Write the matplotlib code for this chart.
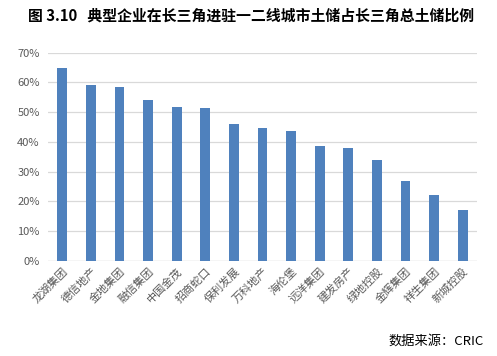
import matplotlib
matplotlib.use("Agg")
import matplotlib.pyplot as plt
from matplotlib.ticker import FuncFormatter

plt.rcParams['font.family'] = ['Noto Sans CJK SC', 'DejaVu Sans']

companies = ["龙湖集团", "德信地产", "金地集团", "融信集团", "中国金茂", "招商蛇口", "保利发展",
             "万科地产", "海伦堡", "远洋集团", "建发房产", "绿地控股", "金辉集团", "祥生集团", "新城控股"]
shares = [64.7, 59.1, 58.5, 54.1, 51.7, 51.4, 46.0, 44.7, 43.7, 38.6, 38.0, 33.9, 26.9, 22.2, 17.1]
yticks = [0, 10, 20, 30, 40, 50, 60, 70]
title = "图 3.10   典型企业在长三角进驻一二线城市土储占长三角总土储比例"
source = "数据来源：CRIC"

fig = plt.figure(figsize=(4.97, 3.56), dpi=100)
ax = fig.add_axes([48/497, 1-261/356, (477-48)/497, (261-52.7)/356])

x = range(len(companies))
ax.bar(x, shares, width=0.34, color="#4F81BD", zorder=3)
ax.set_xlim(-0.5, len(companies) - 0.5)
ax.set_ylim(0, 70)
ax.set_yticks(yticks)
ax.yaxis.set_major_formatter(FuncFormatter(lambda v, p: f"{int(v)}%"))
ax.grid(axis='y', color="#D9D9D9", linewidth=0.9, zorder=0)
for s in ax.spines.values():
    s.set_visible(False)
ax.axhline(0, color="#D9D9D9", linewidth=0.9, zorder=1)
ax.tick_params(axis='both', length=0, colors="#595959", labelsize=8)
ax.tick_params(axis='y', pad=6)
ax.set_xticks(list(x))
ax.set_xticklabels(companies, rotation=45, ha='right', rotation_mode='anchor', fontsize=8, color="#595959")

fig.text(0.505, 1-16/356, title, ha='center', va='center', fontsize=10.7, fontweight='bold', color='black')
fig.text(484/497, 1-341/356, source, ha='right', va='center', fontsize=9.5, color='black')

fig.savefig("out.png", dpi=100)
